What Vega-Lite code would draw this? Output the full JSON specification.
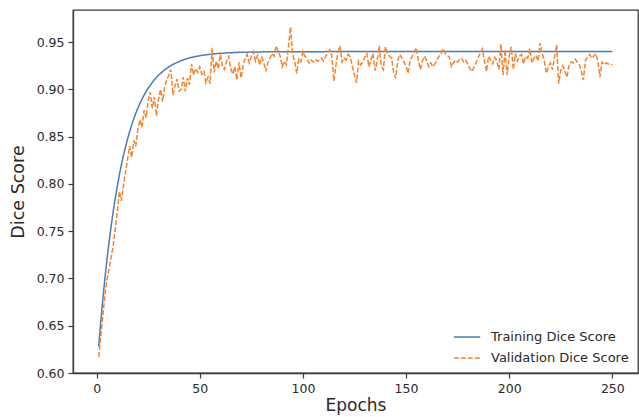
{
"$schema": "https://vega.github.io/schema/vega-lite/v6.json",
"autosize": {"type": "none"},
"padding": {"left": 73, "top": 10, "right": 1, "bottom": 44},
"width": 565,
"height": 363,
"background": "white",
"config": {
  "font": "DejaVu Sans",
  "view": {"stroke": "#3a3a3a", "strokeWidth": 1.3},
  "axis": {"domainColor": "#3a3a3a", "domainWidth": 1.3, "tickColor": "#3a3a3a", "tickWidth": 1.2, "tickSize": 5, "labelFont": "DejaVu Sans", "labelFontSize": 12.5, "labelColor": "#2a2a2a", "titleFont": "DejaVu Sans", "titleFontSize": 17.5, "titleFontWeight": "normal", "titleColor": "#2a2a2a", "grid": false, "labelPadding": 4}
},
"data": {"values": [
{"epoch":1,"Training":0.628,"Validation":0.617},
{"epoch":2,"Training":0.654,"Validation":0.638},
{"epoch":3,"Training":0.6778,"Validation":0.66},
{"epoch":4,"Training":0.6996,"Validation":0.683},
{"epoch":5,"Training":0.7197,"Validation":0.698},
{"epoch":6,"Training":0.738,"Validation":0.71},
{"epoch":7,"Training":0.7548,"Validation":0.722},
{"epoch":8,"Training":0.7702,"Validation":0.734},
{"epoch":9,"Training":0.7844,"Validation":0.752},
{"epoch":10,"Training":0.7973,"Validation":0.77},
{"epoch":11,"Training":0.8092,"Validation":0.792},
{"epoch":12,"Training":0.8201,"Validation":0.782},
{"epoch":13,"Training":0.8301,"Validation":0.798},
{"epoch":14,"Training":0.8392,"Validation":0.812},
{"epoch":15,"Training":0.8476,"Validation":0.826},
{"epoch":16,"Training":0.8553,"Validation":0.84},
{"epoch":17,"Training":0.8624,"Validation":0.828},
{"epoch":18,"Training":0.8688,"Validation":0.846},
{"epoch":19,"Training":0.8748,"Validation":0.84},
{"epoch":20,"Training":0.8802,"Validation":0.858},
{"epoch":21,"Training":0.8852,"Validation":0.868},
{"epoch":22,"Training":0.8897,"Validation":0.86},
{"epoch":23,"Training":0.8939,"Validation":0.878},
{"epoch":24,"Training":0.8978,"Validation":0.87},
{"epoch":25,"Training":0.9013,"Validation":0.888},
{"epoch":26,"Training":0.9045,"Validation":0.897},
{"epoch":27,"Training":0.9075,"Validation":0.88},
{"epoch":28,"Training":0.9102,"Validation":0.892},
{"epoch":29,"Training":0.9127,"Validation":0.872},
{"epoch":30,"Training":0.9149,"Validation":0.89},
{"epoch":31,"Training":0.917,"Validation":0.9},
{"epoch":32,"Training":0.9189,"Validation":0.887},
{"epoch":33,"Training":0.9207,"Validation":0.903},
{"epoch":34,"Training":0.9223,"Validation":0.91},
{"epoch":35,"Training":0.9238,"Validation":0.915},
{"epoch":36,"Training":0.9251,"Validation":0.921},
{"epoch":37,"Training":0.9264,"Validation":0.894},
{"epoch":38,"Training":0.9275,"Validation":0.904},
{"epoch":39,"Training":0.9285,"Validation":0.911},
{"epoch":40,"Training":0.9295,"Validation":0.898},
{"epoch":41,"Training":0.9304,"Validation":0.9},
{"epoch":42,"Training":0.9312,"Validation":0.913},
{"epoch":43,"Training":0.9319,"Validation":0.898},
{"epoch":44,"Training":0.9326,"Validation":0.912},
{"epoch":45,"Training":0.9332,"Validation":0.905},
{"epoch":46,"Training":0.9338,"Validation":0.927},
{"epoch":47,"Training":0.9343,"Validation":0.915},
{"epoch":48,"Training":0.9348,"Validation":0.922},
{"epoch":49,"Training":0.9352,"Validation":0.918},
{"epoch":50,"Training":0.9356,"Validation":0.924},
{"epoch":51,"Training":0.936,"Validation":0.916},
{"epoch":52,"Training":0.9363,"Validation":0.919},
{"epoch":53,"Training":0.9366,"Validation":0.907},
{"epoch":54,"Training":0.9369,"Validation":0.913},
{"epoch":55,"Training":0.9371,"Validation":0.906},
{"epoch":56,"Training":0.9374,"Validation":0.944},
{"epoch":57,"Training":0.9376,"Validation":0.918},
{"epoch":58,"Training":0.9378,"Validation":0.93},
{"epoch":59,"Training":0.938,"Validation":0.922},
{"epoch":60,"Training":0.9382,"Validation":0.937},
{"epoch":61,"Training":0.9383,"Validation":0.925},
{"epoch":62,"Training":0.9384,"Validation":0.921},
{"epoch":63,"Training":0.9386,"Validation":0.93},
{"epoch":64,"Training":0.9387,"Validation":0.935},
{"epoch":65,"Training":0.9388,"Validation":0.922},
{"epoch":66,"Training":0.9389,"Validation":0.916},
{"epoch":67,"Training":0.939,"Validation":0.924},
{"epoch":68,"Training":0.9391,"Validation":0.91},
{"epoch":69,"Training":0.9392,"Validation":0.929},
{"epoch":70,"Training":0.9392,"Validation":0.912},
{"epoch":71,"Training":0.9393,"Validation":0.925},
{"epoch":72,"Training":0.9394,"Validation":0.933},
{"epoch":73,"Training":0.9394,"Validation":0.937},
{"epoch":74,"Training":0.9395,"Validation":0.928},
{"epoch":75,"Training":0.9395,"Validation":0.935},
{"epoch":76,"Training":0.9396,"Validation":0.94},
{"epoch":77,"Training":0.9396,"Validation":0.93},
{"epoch":78,"Training":0.9397,"Validation":0.936},
{"epoch":79,"Training":0.9397,"Validation":0.926},
{"epoch":80,"Training":0.9397,"Validation":0.934},
{"epoch":81,"Training":0.9398,"Validation":0.929},
{"epoch":82,"Training":0.9398,"Validation":0.919},
{"epoch":83,"Training":0.9398,"Validation":0.928},
{"epoch":84,"Training":0.9398,"Validation":0.933},
{"epoch":85,"Training":0.9398,"Validation":0.938},
{"epoch":86,"Training":0.9398,"Validation":0.935},
{"epoch":87,"Training":0.9398,"Validation":0.946},
{"epoch":88,"Training":0.9398,"Validation":0.94},
{"epoch":89,"Training":0.9398,"Validation":0.935},
{"epoch":90,"Training":0.9398,"Validation":0.924},
{"epoch":91,"Training":0.9399,"Validation":0.93},
{"epoch":92,"Training":0.9399,"Validation":0.926},
{"epoch":93,"Training":0.9399,"Validation":0.945},
{"epoch":94,"Training":0.9399,"Validation":0.966},
{"epoch":95,"Training":0.9399,"Validation":0.937},
{"epoch":96,"Training":0.9399,"Validation":0.93},
{"epoch":97,"Training":0.9399,"Validation":0.917},
{"epoch":98,"Training":0.9399,"Validation":0.932},
{"epoch":99,"Training":0.9399,"Validation":0.929},
{"epoch":100,"Training":0.9399,"Validation":0.94},
{"epoch":101,"Training":0.9399,"Validation":0.935},
{"epoch":102,"Training":0.9399,"Validation":0.933},
{"epoch":103,"Training":0.9399,"Validation":0.928},
{"epoch":104,"Training":0.9399,"Validation":0.931},
{"epoch":105,"Training":0.9399,"Validation":0.929},
{"epoch":106,"Training":0.9399,"Validation":0.932},
{"epoch":107,"Training":0.9399,"Validation":0.93},
{"epoch":108,"Training":0.9399,"Validation":0.931},
{"epoch":109,"Training":0.9399,"Validation":0.933},
{"epoch":110,"Training":0.9399,"Validation":0.93},
{"epoch":111,"Training":0.94,"Validation":0.935},
{"epoch":112,"Training":0.94,"Validation":0.938},
{"epoch":113,"Training":0.94,"Validation":0.942},
{"epoch":114,"Training":0.94,"Validation":0.936},
{"epoch":115,"Training":0.94,"Validation":0.909},
{"epoch":116,"Training":0.94,"Validation":0.925},
{"epoch":117,"Training":0.94,"Validation":0.94},
{"epoch":118,"Training":0.94,"Validation":0.946},
{"epoch":119,"Training":0.94,"Validation":0.929},
{"epoch":120,"Training":0.94,"Validation":0.933},
{"epoch":121,"Training":0.94,"Validation":0.931},
{"epoch":122,"Training":0.94,"Validation":0.937},
{"epoch":123,"Training":0.94,"Validation":0.934},
{"epoch":124,"Training":0.94,"Validation":0.924},
{"epoch":125,"Training":0.94,"Validation":0.915},
{"epoch":126,"Training":0.94,"Validation":0.907},
{"epoch":127,"Training":0.94,"Validation":0.93},
{"epoch":128,"Training":0.94,"Validation":0.926},
{"epoch":129,"Training":0.94,"Validation":0.929},
{"epoch":130,"Training":0.94,"Validation":0.934},
{"epoch":131,"Training":0.94,"Validation":0.938},
{"epoch":132,"Training":0.94,"Validation":0.924},
{"epoch":133,"Training":0.94,"Validation":0.932},
{"epoch":134,"Training":0.94,"Validation":0.938},
{"epoch":135,"Training":0.94,"Validation":0.92},
{"epoch":136,"Training":0.94,"Validation":0.93},
{"epoch":137,"Training":0.94,"Validation":0.946},
{"epoch":138,"Training":0.94,"Validation":0.925},
{"epoch":139,"Training":0.94,"Validation":0.921},
{"epoch":140,"Training":0.94,"Validation":0.945},
{"epoch":141,"Training":0.94,"Validation":0.938},
{"epoch":142,"Training":0.94,"Validation":0.935},
{"epoch":143,"Training":0.94,"Validation":0.933},
{"epoch":144,"Training":0.94,"Validation":0.918},
{"epoch":145,"Training":0.94,"Validation":0.912},
{"epoch":146,"Training":0.94,"Validation":0.931},
{"epoch":147,"Training":0.94,"Validation":0.937},
{"epoch":148,"Training":0.94,"Validation":0.933},
{"epoch":149,"Training":0.94,"Validation":0.929},
{"epoch":150,"Training":0.94,"Validation":0.925},
{"epoch":151,"Training":0.94,"Validation":0.917},
{"epoch":152,"Training":0.94,"Validation":0.931},
{"epoch":153,"Training":0.94,"Validation":0.935},
{"epoch":154,"Training":0.94,"Validation":0.94},
{"epoch":155,"Training":0.94,"Validation":0.944},
{"epoch":156,"Training":0.94,"Validation":0.93},
{"epoch":157,"Training":0.94,"Validation":0.921},
{"epoch":158,"Training":0.94,"Validation":0.931},
{"epoch":159,"Training":0.94,"Validation":0.935},
{"epoch":160,"Training":0.94,"Validation":0.93},
{"epoch":161,"Training":0.94,"Validation":0.924},
{"epoch":162,"Training":0.94,"Validation":0.928},
{"epoch":163,"Training":0.94,"Validation":0.924},
{"epoch":164,"Training":0.94,"Validation":0.927},
{"epoch":165,"Training":0.94,"Validation":0.931},
{"epoch":166,"Training":0.94,"Validation":0.935},
{"epoch":167,"Training":0.94,"Validation":0.938},
{"epoch":168,"Training":0.94,"Validation":0.943},
{"epoch":169,"Training":0.94,"Validation":0.938},
{"epoch":170,"Training":0.94,"Validation":0.936},
{"epoch":171,"Training":0.94,"Validation":0.934},
{"epoch":172,"Training":0.94,"Validation":0.924},
{"epoch":173,"Training":0.94,"Validation":0.928},
{"epoch":174,"Training":0.94,"Validation":0.931},
{"epoch":175,"Training":0.94,"Validation":0.929},
{"epoch":176,"Training":0.94,"Validation":0.932},
{"epoch":177,"Training":0.94,"Validation":0.933},
{"epoch":178,"Training":0.94,"Validation":0.929},
{"epoch":179,"Training":0.94,"Validation":0.931},
{"epoch":180,"Training":0.94,"Validation":0.926},
{"epoch":181,"Training":0.94,"Validation":0.922},
{"epoch":182,"Training":0.94,"Validation":0.919},
{"epoch":183,"Training":0.94,"Validation":0.924},
{"epoch":184,"Training":0.94,"Validation":0.928},
{"epoch":185,"Training":0.94,"Validation":0.934},
{"epoch":186,"Training":0.94,"Validation":0.938},
{"epoch":187,"Training":0.94,"Validation":0.943},
{"epoch":188,"Training":0.94,"Validation":0.93},
{"epoch":189,"Training":0.94,"Validation":0.919},
{"epoch":190,"Training":0.94,"Validation":0.935},
{"epoch":191,"Training":0.94,"Validation":0.931},
{"epoch":192,"Training":0.94,"Validation":0.927},
{"epoch":193,"Training":0.94,"Validation":0.934},
{"epoch":194,"Training":0.94,"Validation":0.93},
{"epoch":195,"Training":0.94,"Validation":0.921},
{"epoch":196,"Training":0.94,"Validation":0.948},
{"epoch":197,"Training":0.94,"Validation":0.915},
{"epoch":198,"Training":0.94,"Validation":0.942},
{"epoch":199,"Training":0.94,"Validation":0.915},
{"epoch":200,"Training":0.94,"Validation":0.935},
{"epoch":201,"Training":0.94,"Validation":0.945},
{"epoch":202,"Training":0.94,"Validation":0.921},
{"epoch":203,"Training":0.94,"Validation":0.938},
{"epoch":204,"Training":0.94,"Validation":0.93},
{"epoch":205,"Training":0.94,"Validation":0.935},
{"epoch":206,"Training":0.94,"Validation":0.937},
{"epoch":207,"Training":0.94,"Validation":0.927},
{"epoch":208,"Training":0.94,"Validation":0.935},
{"epoch":209,"Training":0.94,"Validation":0.933},
{"epoch":210,"Training":0.94,"Validation":0.943},
{"epoch":211,"Training":0.94,"Validation":0.928},
{"epoch":212,"Training":0.94,"Validation":0.933},
{"epoch":213,"Training":0.94,"Validation":0.936},
{"epoch":214,"Training":0.94,"Validation":0.93},
{"epoch":215,"Training":0.94,"Validation":0.949},
{"epoch":216,"Training":0.94,"Validation":0.938},
{"epoch":217,"Training":0.94,"Validation":0.931},
{"epoch":218,"Training":0.94,"Validation":0.917},
{"epoch":219,"Training":0.94,"Validation":0.924},
{"epoch":220,"Training":0.94,"Validation":0.928},
{"epoch":221,"Training":0.94,"Validation":0.921},
{"epoch":222,"Training":0.94,"Validation":0.935},
{"epoch":223,"Training":0.94,"Validation":0.947},
{"epoch":224,"Training":0.94,"Validation":0.906},
{"epoch":225,"Training":0.94,"Validation":0.92},
{"epoch":226,"Training":0.94,"Validation":0.925},
{"epoch":227,"Training":0.94,"Validation":0.919},
{"epoch":228,"Training":0.94,"Validation":0.913},
{"epoch":229,"Training":0.94,"Validation":0.925},
{"epoch":230,"Training":0.94,"Validation":0.929},
{"epoch":231,"Training":0.94,"Validation":0.928},
{"epoch":232,"Training":0.94,"Validation":0.932},
{"epoch":233,"Training":0.94,"Validation":0.929},
{"epoch":234,"Training":0.94,"Validation":0.926},
{"epoch":235,"Training":0.94,"Validation":0.919},
{"epoch":236,"Training":0.94,"Validation":0.91},
{"epoch":237,"Training":0.94,"Validation":0.931},
{"epoch":238,"Training":0.94,"Validation":0.934},
{"epoch":239,"Training":0.94,"Validation":0.937},
{"epoch":240,"Training":0.94,"Validation":0.933},
{"epoch":241,"Training":0.94,"Validation":0.935},
{"epoch":242,"Training":0.94,"Validation":0.938},
{"epoch":243,"Training":0.94,"Validation":0.93},
{"epoch":244,"Training":0.94,"Validation":0.913},
{"epoch":245,"Training":0.94,"Validation":0.929},
{"epoch":246,"Training":0.94,"Validation":0.926},
{"epoch":247,"Training":0.94,"Validation":0.928},
{"epoch":248,"Training":0.94,"Validation":0.927},
{"epoch":249,"Training":0.94,"Validation":0.927},
{"epoch":250,"Training":0.94,"Validation":0.926}
]},
"transform": [{"fold": ["Training", "Validation"], "as": ["series", "score"]}],
"mark": {"type": "line", "strokeWidth": 1.5, "clip": true},
"encoding": {
  "x": {"field": "epoch", "type": "quantitative", "title": "Epochs",
        "scale": {"domain": [-11.45, 262.45], "nice": false, "zero": false},
        "axis": {"values": [0, 50, 100, 150, 200, 250], "titlePadding": 3, "titleFontSize": 17}},
  "y": {"field": "score", "type": "quantitative", "title": "Dice Score",
        "scale": {"domain": [0.6, 0.984], "nice": false, "zero": false},
        "axis": {"values": [0.6, 0.65, 0.7, 0.75, 0.8, 0.85, 0.9, 0.95], "format": ".2f", "titlePadding": 9}},
  "color": {"field": "series", "type": "nominal",
            "scale": {"domain": ["Training", "Validation"], "range": ["#4a7cba", "#f5842f"]},
            "legend": {"orient": "none", "legendX": 380, "legendY": 313, "title": null,
                       "labelExpr": "datum.label + ' Dice Score'",
                       "labelFont": "DejaVu Sans", "labelFontSize": 13, "labelColor": "#2a2a2a",
                       "symbolType": "stroke", "symbolSize": 700, "symbolStrokeWidth": 1.5,
                       "labelOffset": 10, "rowPadding": -6}},
  "strokeDash": {"field": "series", "type": "nominal",
                 "scale": {"domain": ["Training", "Validation"], "range": [[1, 0], [5, 2]]},
                 "legend": null}
}
}
